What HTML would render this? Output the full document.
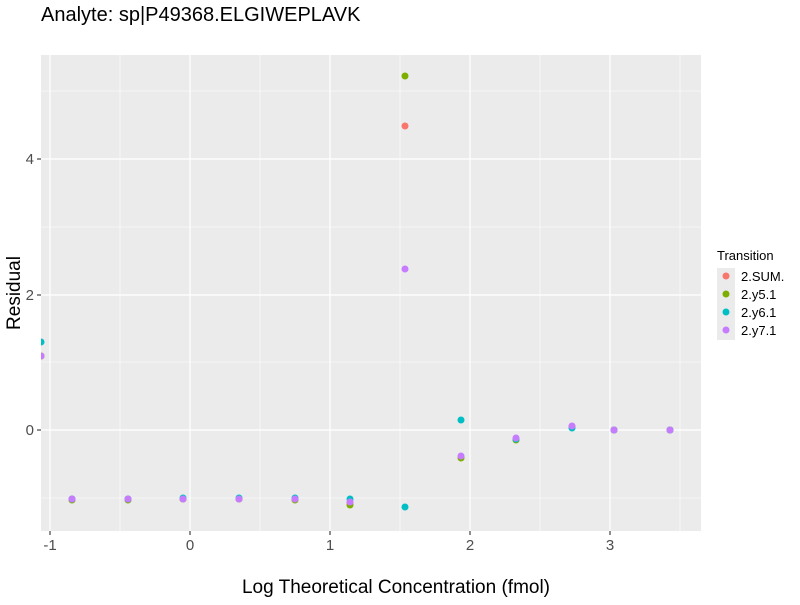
<!DOCTYPE html>
<html><head><meta charset="utf-8"><style>body{margin:0;background:#fff}</style></head><body>
<svg width="800" height="600" xmlns="http://www.w3.org/2000/svg" font-family="Liberation Sans, sans-serif">
<defs><clipPath id="c"><rect x="41" y="55" width="660" height="476"/></clipPath></defs>
<text x="41" y="21" font-size="20" fill="#000">Analyte: sp|P49368.ELGIWEPLAVK</text>
<rect x="41" y="55" width="660" height="476" fill="#ebebeb"/>
<g stroke="#fff" stroke-width="0.6">
<line x1="120" x2="120" y1="55" y2="531"/><line x1="260" x2="260" y1="55" y2="531"/><line x1="400" x2="400" y1="55" y2="531"/><line x1="540" x2="540" y1="55" y2="531"/><line x1="680" x2="680" y1="55" y2="531"/>
<line y1="91" y2="91" x1="41" x2="701"/><line y1="227" y2="227" x1="41" x2="701"/><line y1="362" y2="362" x1="41" x2="701"/><line y1="498" y2="498" x1="41" x2="701"/>
</g>
<g stroke="#fff" stroke-width="1.2">
<line x1="50" x2="50" y1="55" y2="531"/><line x1="190" x2="190" y1="55" y2="531"/><line x1="330" x2="330" y1="55" y2="531"/><line x1="470" x2="470" y1="55" y2="531"/><line x1="610" x2="610" y1="55" y2="531"/>
<line y1="159" y2="159" x1="41" x2="701"/><line y1="295" y2="295" x1="41" x2="701"/><line y1="430" y2="430" x1="41" x2="701"/>
</g>
<g clip-path="url(#c)">
<g fill="#F8766D"><circle cx="41" cy="356" r="3.5"/><circle cx="72" cy="499" r="3.5"/><circle cx="128" cy="499" r="3.5"/><circle cx="183" cy="499" r="3.5"/><circle cx="239" cy="499" r="3.5"/><circle cx="295" cy="499" r="3.5"/><circle cx="350" cy="503" r="3.5"/><circle cx="405" cy="126" r="3.5"/><circle cx="461" cy="457" r="3.5"/><circle cx="516" cy="439" r="3.5"/><circle cx="572" cy="427" r="3.5"/><circle cx="614" cy="430" r="3.5"/><circle cx="670" cy="430" r="3.5"/></g>
<g fill="#7CAE00"><circle cx="41" cy="356" r="3.5"/><circle cx="72" cy="500" r="3.5"/><circle cx="128" cy="500" r="3.5"/><circle cx="183" cy="499" r="3.5"/><circle cx="239" cy="499" r="3.5"/><circle cx="295" cy="500" r="3.5"/><circle cx="350" cy="505" r="3.5"/><circle cx="405" cy="76" r="3.5"/><circle cx="461" cy="458" r="3.5"/><circle cx="516" cy="440" r="3.5"/><circle cx="572" cy="427" r="3.5"/><circle cx="614" cy="430" r="3.5"/><circle cx="670" cy="430" r="3.5"/></g>
<g fill="#00BFC4"><circle cx="41" cy="342" r="3.5"/><circle cx="72" cy="499" r="3.5"/><circle cx="128" cy="499" r="3.5"/><circle cx="183" cy="498" r="3.5"/><circle cx="239" cy="498" r="3.5"/><circle cx="295" cy="498" r="3.5"/><circle cx="350" cy="499" r="3.5"/><circle cx="405" cy="507" r="3.5"/><circle cx="461" cy="420" r="3.5"/><circle cx="516" cy="439" r="3.5"/><circle cx="572" cy="428" r="3.5"/><circle cx="614" cy="430" r="3.5"/><circle cx="670" cy="430" r="3.5"/></g>
<g fill="#C77CFF"><circle cx="41" cy="356" r="3.5"/><circle cx="72" cy="499" r="3.5"/><circle cx="128" cy="499" r="3.5"/><circle cx="183" cy="499" r="3.5"/><circle cx="239" cy="499" r="3.5"/><circle cx="295" cy="499" r="3.5"/><circle cx="350" cy="502" r="3.5"/><circle cx="405" cy="269" r="3.5"/><circle cx="461" cy="456" r="3.5"/><circle cx="516" cy="438" r="3.5"/><circle cx="572" cy="426" r="3.5"/><circle cx="614" cy="430" r="3.5"/><circle cx="670" cy="430" r="3.5"/></g>
</g>
<g stroke="#333" stroke-width="1.1">
<line x1="50" x2="50" y1="531" y2="535"/><line x1="190" x2="190" y1="531" y2="535"/><line x1="330" x2="330" y1="531" y2="535"/><line x1="470" x2="470" y1="531" y2="535"/><line x1="610" x2="610" y1="531" y2="535"/>
<line x1="37" x2="41" y1="159" y2="159"/><line x1="37" x2="41" y1="295" y2="295"/><line x1="37" x2="41" y1="430" y2="430"/>
</g>
<g font-size="15" fill="#4d4d4d" text-anchor="middle">
<text x="50" y="550">-1</text><text x="190" y="550">0</text><text x="330" y="550">1</text><text x="470" y="550">2</text><text x="610" y="550">3</text>
</g>
<g font-size="15" fill="#4d4d4d" text-anchor="end">
<text x="34" y="164">4</text><text x="34" y="300">2</text><text x="34" y="435">0</text>
</g>
<text x="396" y="593" font-size="19" text-anchor="middle" fill="#000">Log Theoretical Concentration (fmol)</text>
<text transform="translate(20,293) rotate(-90)" font-size="19" text-anchor="middle" fill="#000">Residual</text>
<text x="717" y="260" font-size="13" fill="#000">Transition</text>
<rect x="717" y="268" width="18" height="72" fill="#ebebeb"/>
<circle cx="726" cy="276" r="3.5" fill="#F8766D"/><circle cx="726" cy="294" r="3.5" fill="#7CAE00"/><circle cx="726" cy="312" r="3.5" fill="#00BFC4"/><circle cx="726" cy="330" r="3.5" fill="#C77CFF"/>
<g font-size="13" fill="#000"><text x="741" y="281">2.SUM.</text><text x="741" y="299">2.y5.1</text><text x="741" y="317">2.y6.1</text><text x="741" y="335">2.y7.1</text></g>
</svg>
</body></html>
